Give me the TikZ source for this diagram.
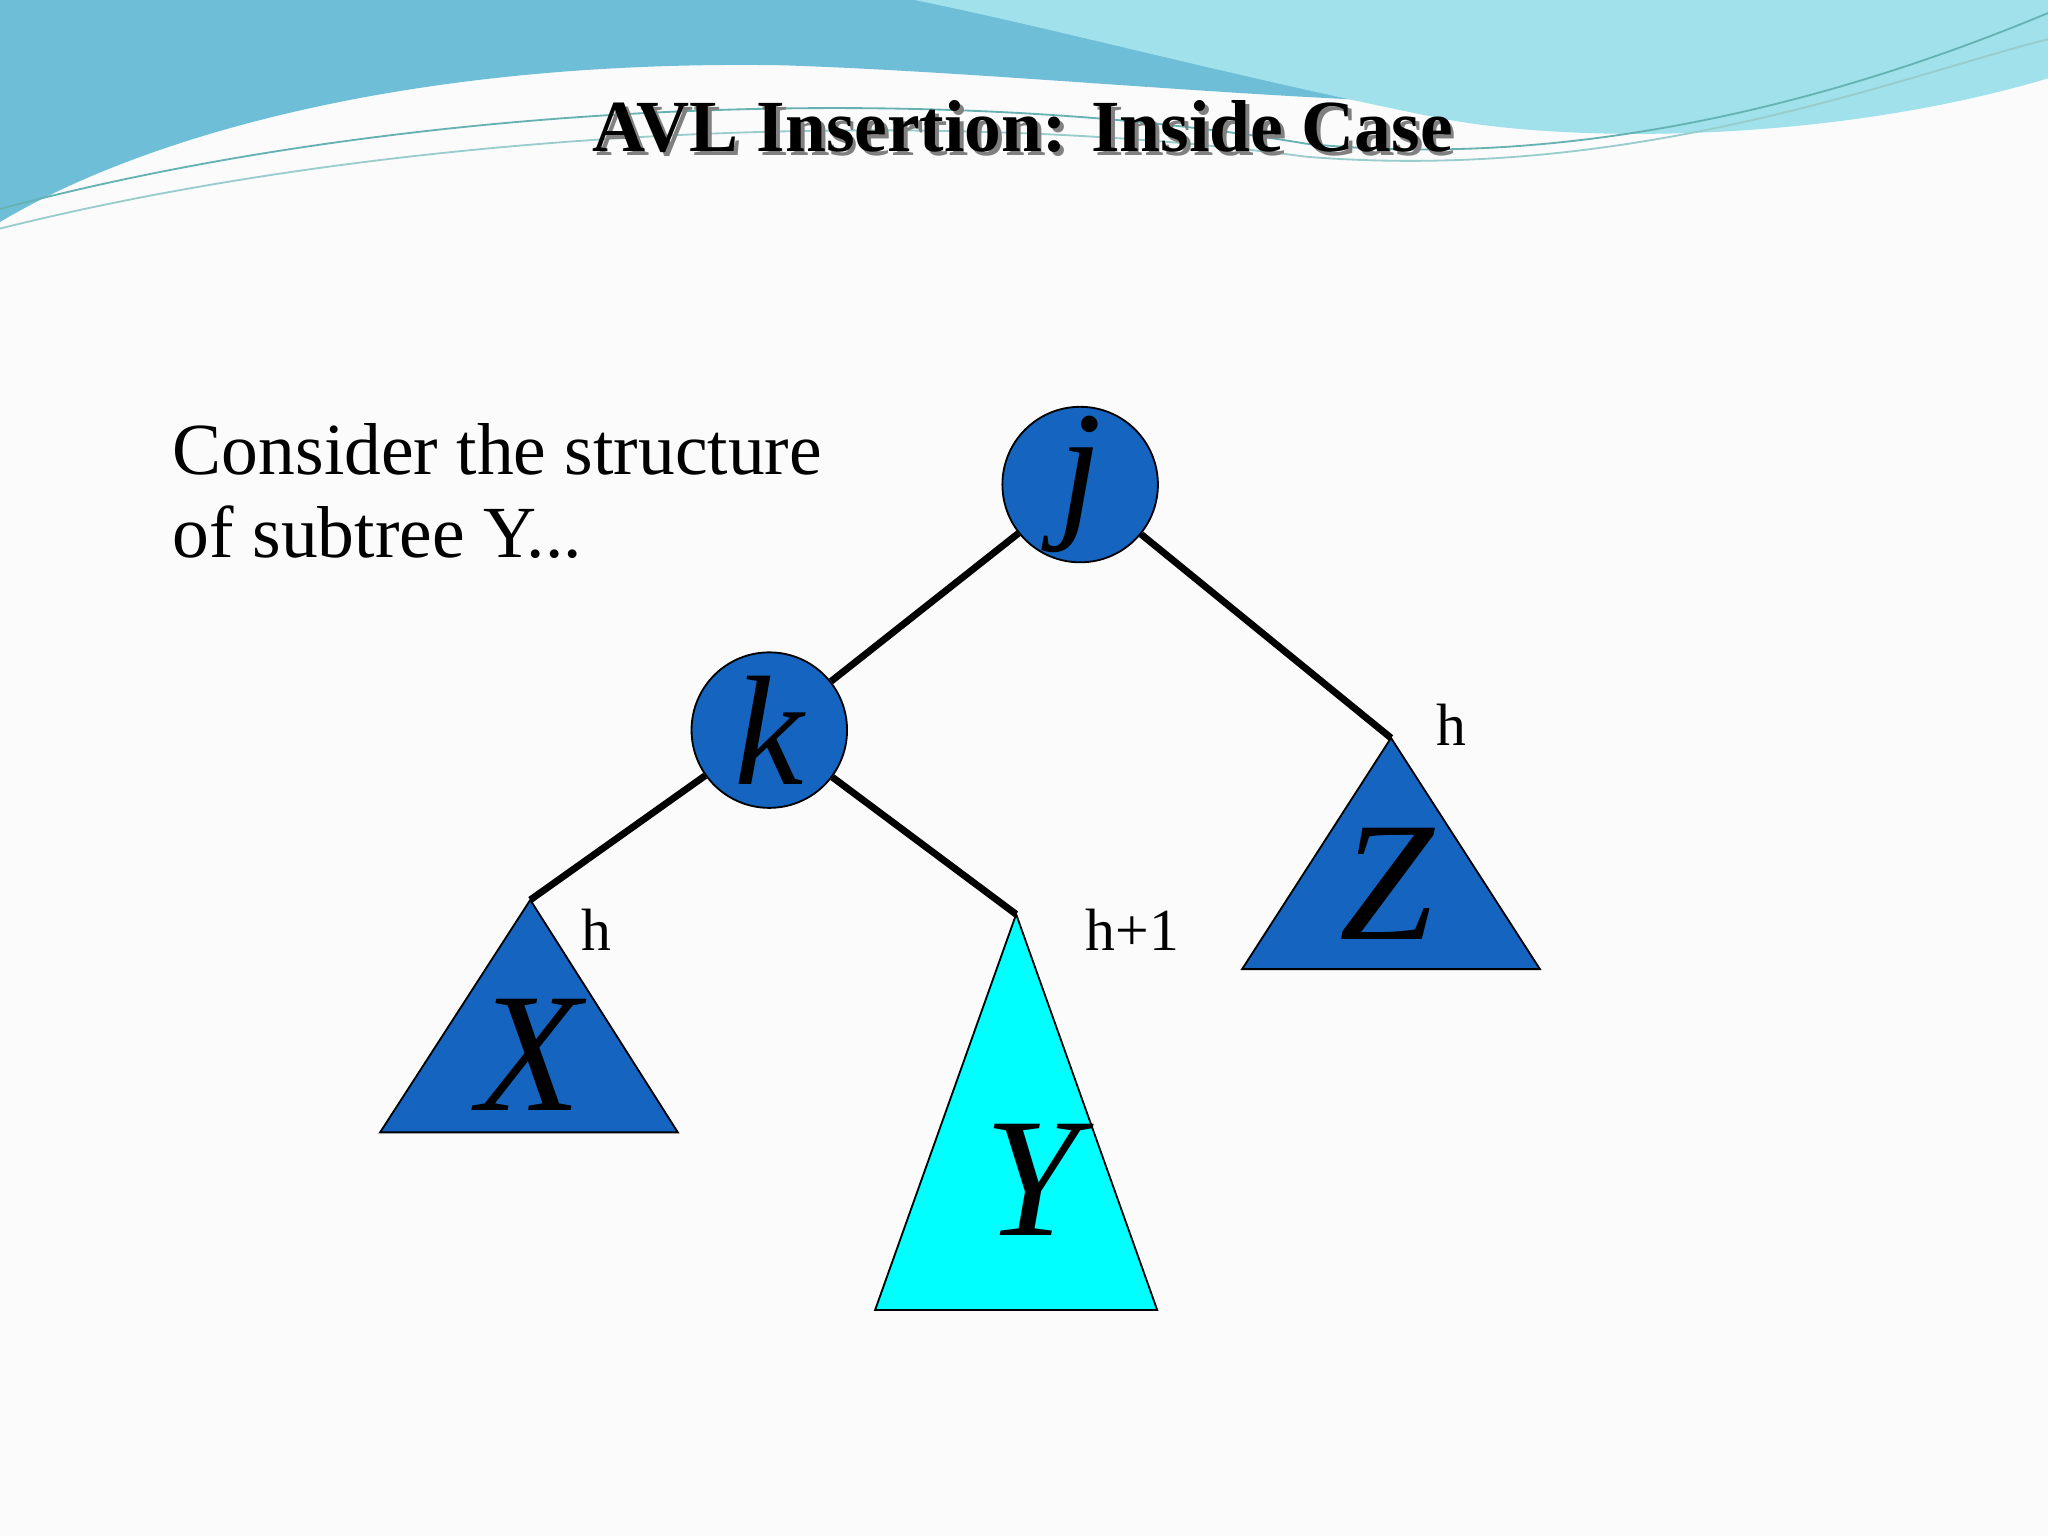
\documentclass[tikz,border=0pt]{standalone}
\usepackage{fontspec}
\setmainfont{Liberation Serif}
\definecolor{nodeblue}{RGB}{21,101,192}
\definecolor{leafcyan}{RGB}{0,255,255}
\definecolor{wavelight}{RGB}{160,225,235}
\definecolor{wavedark}{RGB}{110,190,215}
\tikzset{
  treenode/.style={circle,draw=black,fill=nodeblue,minimum size=1.19cm,inner sep=0pt,
    font=\fontsize{34}{34}\selectfont\itshape},
  subtree/.style={draw=black,fill=nodeblue},
  edge/.style={line width=1.5pt},
  hlabel/.style={font=\fontsize{13}{13}\selectfont},
  leafname/.style={font=\fontsize{37}{37}\selectfont\itshape}
}
\begin{document}
\begin{tikzpicture}[x=0.01cm,y=-0.01cm]
  \useasboundingbox (0,0) rectangle (1568,1176);
  \fill [white!97!gray] (0,0) rectangle (1568,1176);
  % wave at the top
  \fill [wavedark] (0,0)--(1568,0)--(1568,40) .. controls (1300,120) and (900,60) .. (600,50) .. controls (300,45) and (100,110) .. (0,170)--cycle;
  \fill [wavelight] (700,0)--(1568,0)--(1568,60) .. controls (1400,110) and (1200,110) .. (1100,90) .. controls (950,60) and (800,20) .. (700,0)--cycle;
  \draw [teal!60,thin] (0,160) .. controls (300,80) and (700,60) .. (1000,110) .. controls (1200,130) and (1400,80) .. (1568,10);
  \draw [teal!40,thin] (0,175) .. controls (300,100) and (700,80) .. (1000,120) .. controls (1250,140) and (1450,60) .. (1568,30);
  % title
  \node [text=gray,font=\fontsize{16}{16}\selectfont\bfseries] at (786,100) {AVL Insertion: Inside Case};
  \node (title) [font=\fontsize{16}{16}\selectfont\bfseries] at (783,97) {AVL Insertion: Inside Case};
  \node (text) [anchor=north west,align=left,font=\fontsize{16}{18}\selectfont] at (120,312) {Consider the structure\\of subtree Y...};
  % nodes
  \node (j) [treenode] at (827,371) {j};
  \node (k) [treenode] at (589,559) {k};
  \coordinate (xtop) at (406,689);
  \coordinate (ytop) at (778,700);
  \coordinate (ztop) at (1065,565);
  \draw [subtree] (xtop)--(519,867)--(291,867)--cycle;
  \draw [subtree,fill=leafcyan] (ytop)--(886,1003)--(670,1003)--cycle;
  \draw [subtree] (ztop)--(1179,742)--(951,742)--cycle;
  \node (X) [leafname] at (405,808) {X};
  \node (Y) [leafname] at (790,903) {Y};
  \node (Z) [leafname] at (1062,677) {Z};
  \draw [edge] (j)--(k);
  \draw [edge] (j)--(ztop);
  \draw [edge] (k)--(xtop);
  \draw [edge] (k)--(ytop);
  \node (hx) [hlabel] at (457,712) {h};
  \node (hy) [hlabel] at (867,712) {h+1};
  \node (hz) [hlabel] at (1111,555) {h};
\end{tikzpicture}
\end{document}
